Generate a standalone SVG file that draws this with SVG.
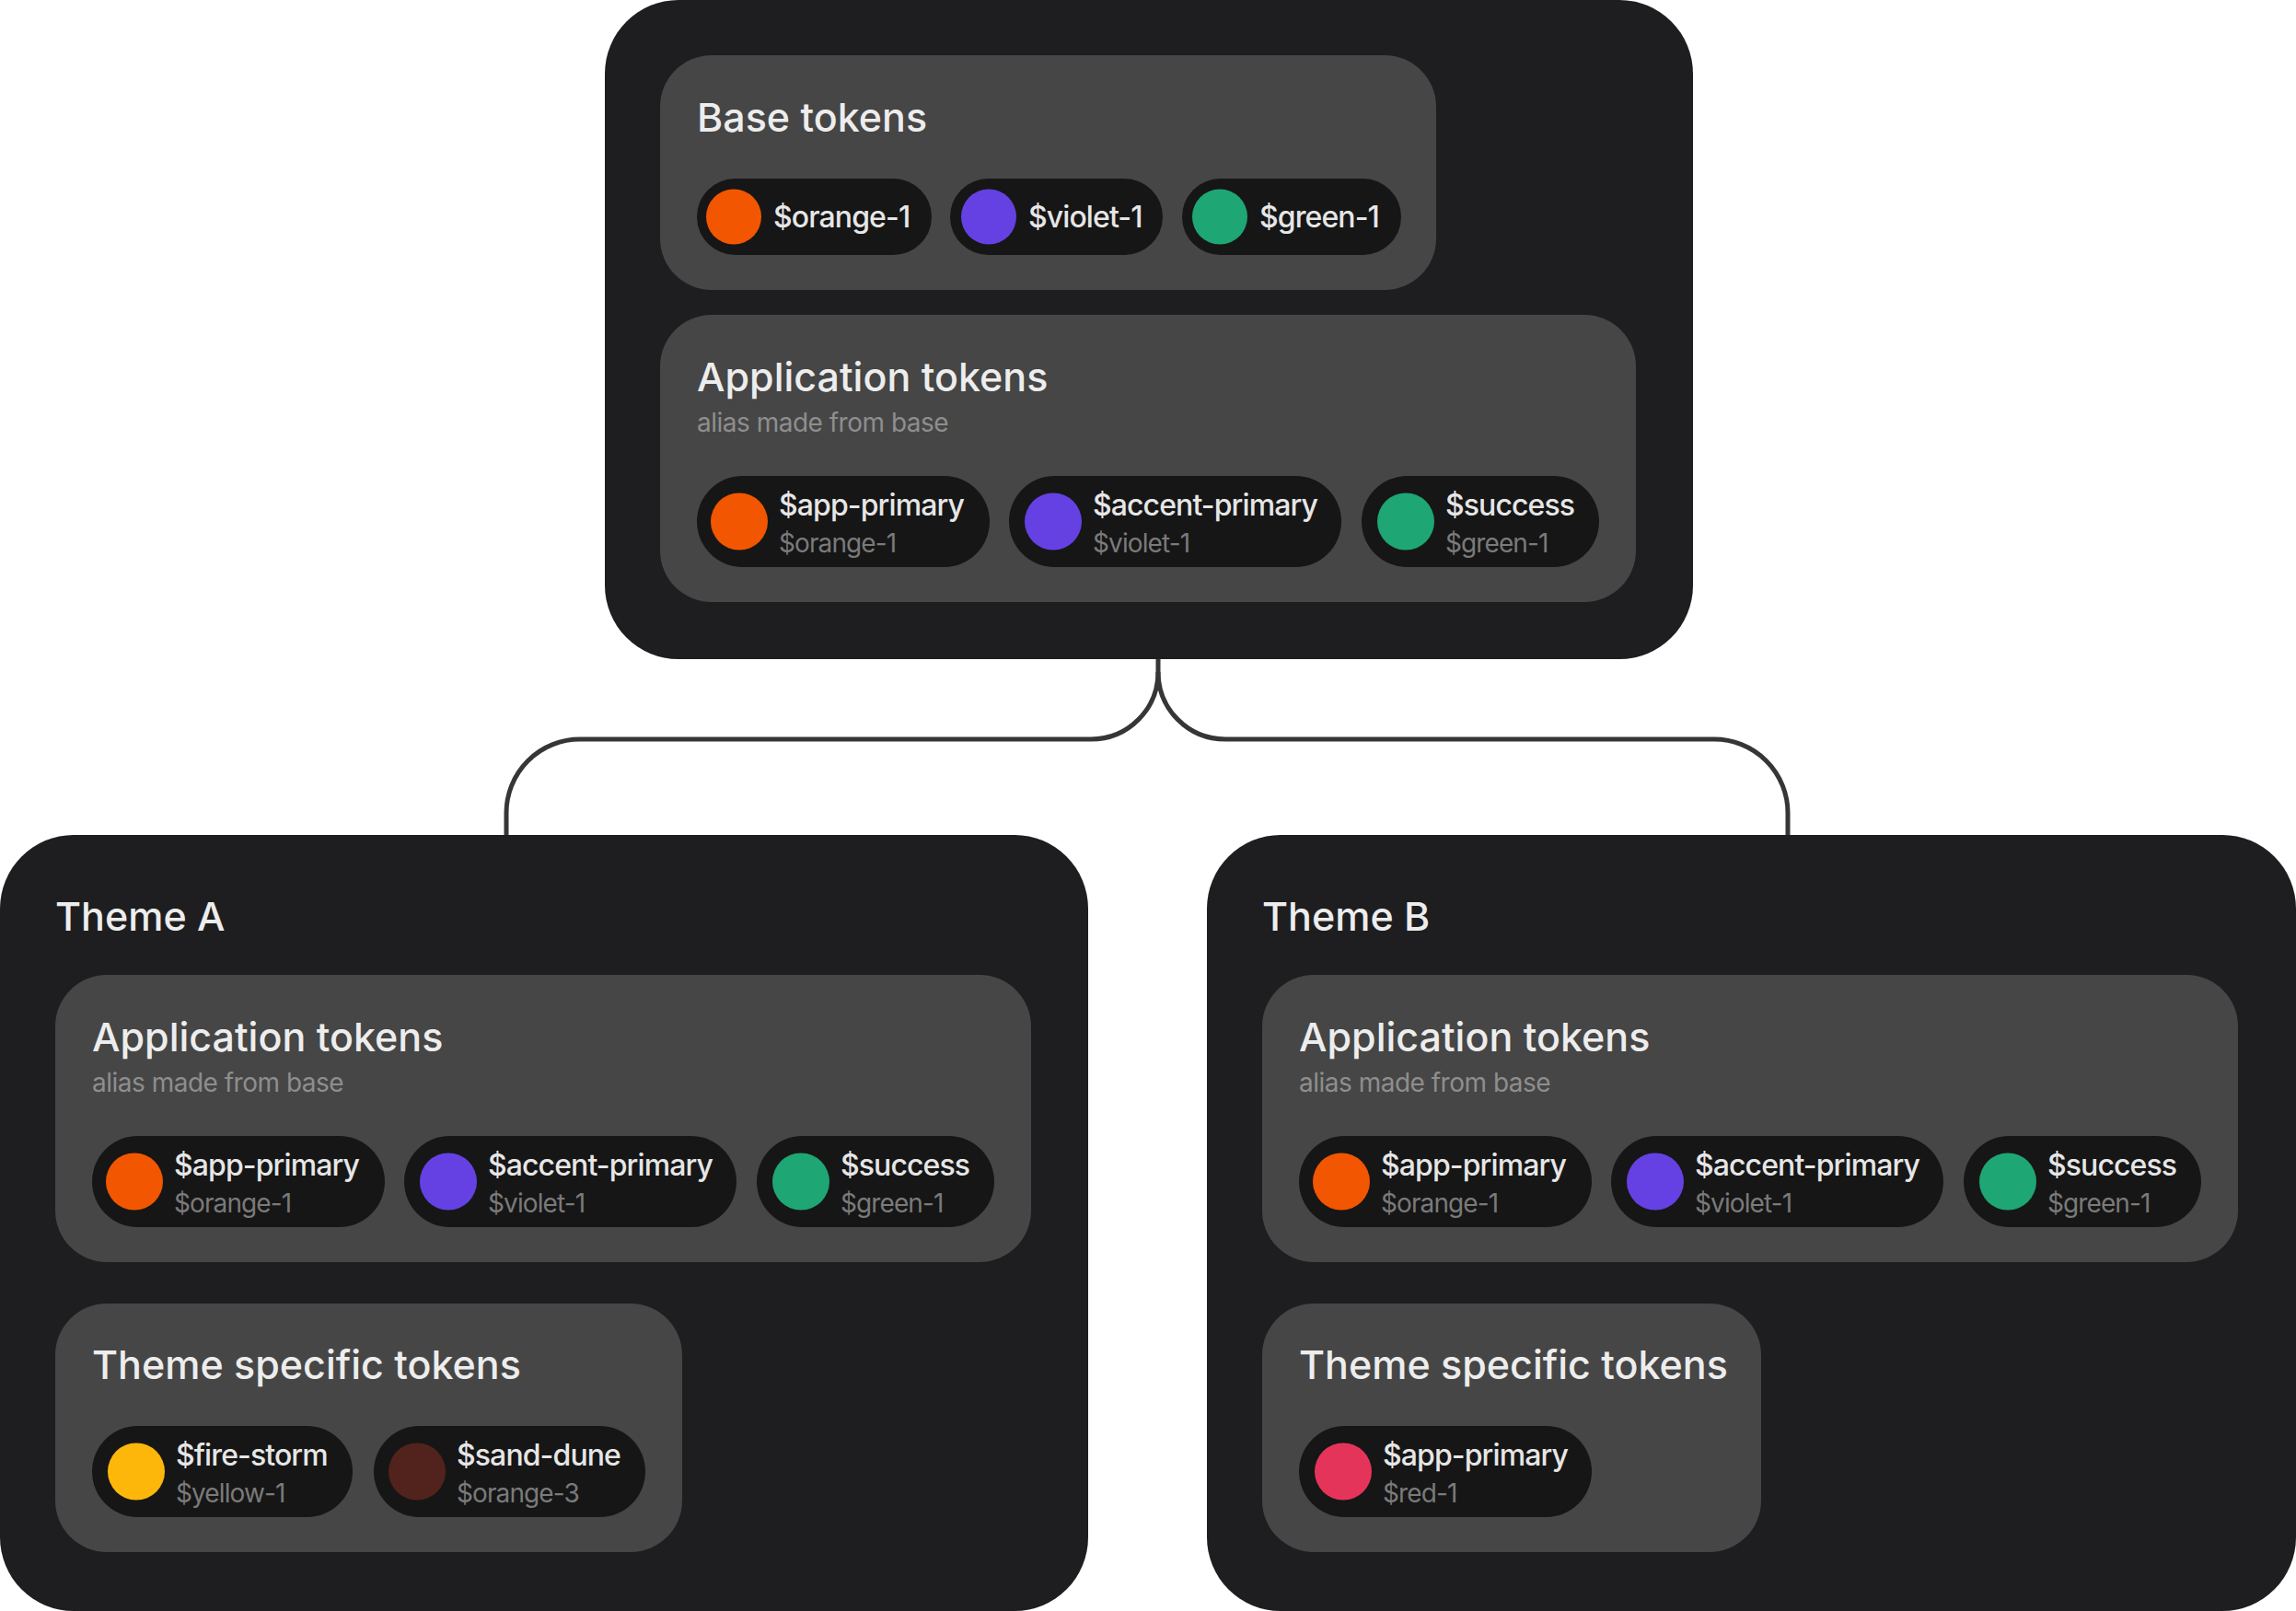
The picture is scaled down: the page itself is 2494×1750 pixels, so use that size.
<svg xmlns="http://www.w3.org/2000/svg" width="2494" height="1750" viewBox="0 0 2494 1750">
<style>
.container{fill:#1e1e20}
.panel{fill:#464646}
.pill{fill:#161616}
.h1{font-family:Inter,"Noto Sans",sans-serif;font-weight:500;font-size:43px;fill:#ededed}
.sub{font-family:Inter,"Noto Sans",sans-serif;font-weight:400;font-size:28px;letter-spacing:-0.5px;fill:#8e8e8e}
.pt{font-family:Inter,"Noto Sans",sans-serif;font-weight:500;font-size:32px;letter-spacing:-0.9px;fill:#e6e6e6}
.ps{font-family:Inter,"Noto Sans",sans-serif;font-weight:400;font-size:28px;letter-spacing:-0.9px;fill:#7a7a7a}
.conn{fill:none;stroke:#363636;stroke-width:5}
.orange{fill:#f25600}.violet{fill:#6541e3}.green{fill:#1ea674}.yellow{fill:#fdb70a}.brown{fill:#52231c}.red{fill:#e5345a}
</style>
<defs>
<g id="appPanel">
<rect class="panel" x="0" y="0" width="1060" height="312" rx="56"/>
<text class="h1" x="40" y="83">Application tokens</text>
<text class="sub" x="40" y="127">alias made from base</text>
<rect class="pill" x="40" y="175" width="318" height="99" rx="49.5"/>
<circle class="orange" cx="86" cy="224.5" r="31"/>
<text class="pt" x="129" y="218">$app-primary</text>
<text class="ps" x="129" y="258">$orange-1</text>
<rect class="pill" x="379" y="175" width="361" height="99" rx="49.5"/>
<circle class="violet" cx="427" cy="224.5" r="31"/>
<text class="pt" x="470" y="218">$accent-primary</text>
<text class="ps" x="470" y="258">$violet-1</text>
<rect class="pill" x="762" y="175" width="258" height="99" rx="49.5"/>
<circle class="green" cx="810" cy="224.5" r="31"/>
<text class="pt" x="853" y="218">$success</text>
<text class="ps" x="853" y="258">$green-1</text>
</g>
</defs>
<g id="connectors">
<path class="conn" d="M1258,716 L1258,730 A73,73 0 0 1 1185,803 L630,803 A80,80 0 0 0 550,883 L550,910"/>
<path class="conn" d="M1258,730 A73,73 0 0 0 1331,803 L1862,803 A80,80 0 0 1 1942,883 L1942,910"/>
</g>
<g id="base">
<rect class="container" x="657" y="0" width="1182" height="716" rx="80"/>
<g id="base-tokens" transform="translate(717,60)">
<rect class="panel" x="0" y="0" width="843" height="255" rx="56"/>
<text class="h1" x="40" y="83">Base tokens</text>
<rect class="pill" x="40" y="134" width="255" height="83" rx="41.5"/>
<circle class="orange" cx="80" cy="175.5" r="30"/>
<text class="pt" x="123" y="187">$orange-1</text>
<rect class="pill" x="315" y="134" width="231" height="83" rx="41.5"/>
<circle class="violet" cx="357" cy="175.5" r="30"/>
<text class="pt" x="400" y="187">$violet-1</text>
<rect class="pill" x="567" y="134" width="238" height="83" rx="41.5"/>
<circle class="green" cx="608" cy="175.5" r="30"/>
<text class="pt" x="651" y="187">$green-1</text>
</g>
<use id="base-app-tokens" href="#appPanel" transform="translate(717,342)"/>
</g>
<g id="theme-a">
<rect class="container" x="0" y="907" width="1182" height="843" rx="80"/>
<text class="h1" x="60" y="1011">Theme A</text>
<use id="theme-a-app-tokens" href="#appPanel" transform="translate(60,1059)"/>
<g id="theme-a-specific" transform="translate(60,1416)">
<rect class="panel" x="0" y="0" width="681" height="270" rx="56"/>
<text class="h1" x="40" y="82">Theme specific tokens</text>
<rect class="pill" x="40" y="133" width="283" height="99" rx="49.5"/>
<circle class="yellow" cx="88" cy="182.5" r="31"/>
<text class="pt" x="131" y="176">$fire-storm</text>
<text class="ps" x="131" y="216">$yellow-1</text>
<rect class="pill" x="346" y="133" width="295" height="99" rx="49.5"/>
<circle class="brown" cx="393" cy="182.5" r="31"/>
<text class="pt" x="436" y="176">$sand-dune</text>
<text class="ps" x="436" y="216">$orange-3</text>
</g>
</g>
<g id="theme-b">
<rect class="container" x="1311" y="907" width="1183" height="843" rx="80"/>
<text class="h1" x="1371" y="1011">Theme B</text>
<use id="theme-b-app-tokens" href="#appPanel" transform="translate(1371,1059)"/>
<g id="theme-b-specific" transform="translate(1371,1416)">
<rect class="panel" x="0" y="0" width="542" height="270" rx="56"/>
<text class="h1" x="40" y="82">Theme specific tokens</text>
<rect class="pill" x="40" y="133" width="318" height="99" rx="49.5"/>
<circle class="red" cx="88" cy="182.5" r="31"/>
<text class="pt" x="131" y="176">$app-primary</text>
<text class="ps" x="131" y="216">$red-1</text>
</g>
</g>
</svg>
